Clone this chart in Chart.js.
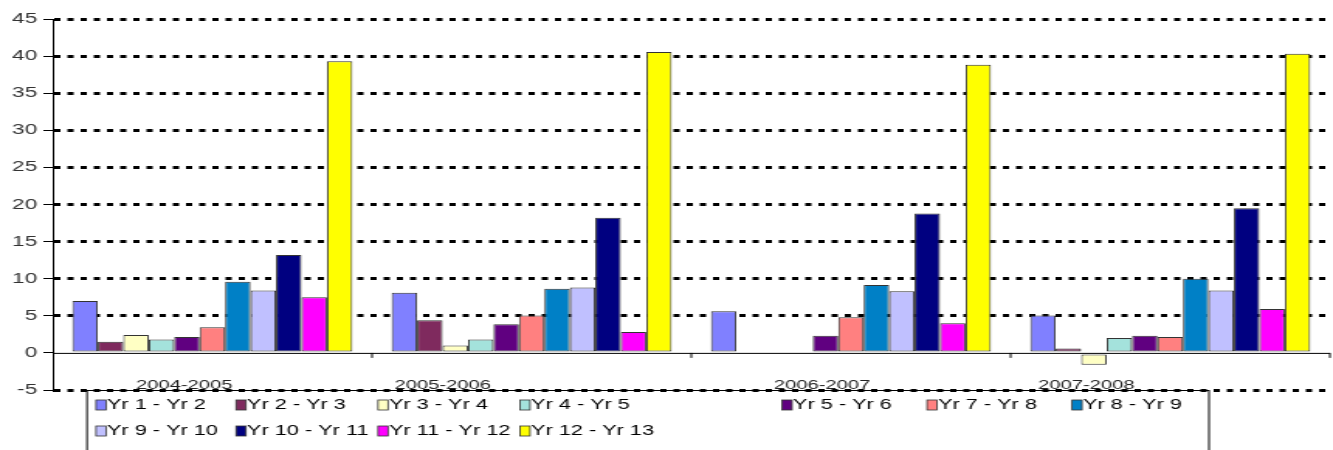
<!DOCTYPE html>
<html>
<head>
<meta charset="utf-8">
<script src="https://cdn.jsdelivr.net/npm/chart.js@4"></script>
<style>
  html, body { margin: 0; padding: 0; background: #fff; overflow: hidden; }
  /* the original picture is stretched sideways, so draw narrow and widen it */
  #wrap { width: 860px; height: 450px; transform: scaleX(1.55); transform-origin: 0 0; }
</style>
</head>
<body>
<div id="wrap"><canvas id="chart" width="860" height="450"></canvas></div>
<script>
const categories = ['2004-2005', '2005-2006', '2006-2007', '2007-2008'];
const seriesNames = ['Yr 1 - Yr 2', 'Yr 2 - Yr 3', 'Yr 3 - Yr 4', 'Yr 4 - Yr 5', 'Yr 5 - Yr 6',
    'Yr 7 - Yr 8', 'Yr 8 - Yr 9', 'Yr 9 - Yr 10', 'Yr 10 - Yr 11', 'Yr 11 - Yr 12', 'Yr 12 - Yr 13'];

const yr1_2   = [7.0, 8.1, 5.6, 5.05];
const yr2_3   = [1.5, 4.4, -0.2, 0.6];
const yr3_4   = [2.4, 1.0, 0, -1.6];
const yr4_5   = [1.8, 1.8, -0.2, 2.0];
const yr5_6   = [2.15, 3.85, 2.3, 2.3];
const yr7_8   = [3.45, 5.05, 4.8, 2.15];
const yr8_9   = [9.6, 8.65, 9.15, 10.0];
const yr9_10  = [8.4, 8.8, 8.3, 8.4];
const yr10_11 = [13.2, 18.2, 18.8, 19.5];
const yr11_12 = [7.5, 2.8, 4.0, 5.9];
const yr12_13 = [39.3, 40.55, 38.85, 40.3];

const yMin = -5, yMax = 45, yStep = 5;

const seriesValues = [yr1_2, yr2_3, yr3_4, yr4_5, yr5_6, yr7_8, yr8_9, yr9_10, yr10_11, yr11_12, yr12_13];
const seriesColors = ['#8080FF', '#7F2A5E', '#FFFFC4', '#A4E2DC', '#600080', '#FF8080',
    '#0080C6', '#C0C0FF', '#000080', '#FF00FF', '#FFFF00'];

const STRETCH = 1.55;
const FONT = 'Arial, "Liberation Sans", sans-serif';
// legend columns and rows in screen pixels
const legendCols = [96, 236, 378, 520, 782, 927, 1072];
const legendRows = [405, 431];
const labelShift = [-28, -89, -29, -84];

const extras = {
    id: 'extras',
    afterDraw(chart) {
        const ctx = chart.ctx;
        const x = chart.scales.x, y = chart.scales.y;
        const area = chart.chartArea;
        const y0 = y.getPixelForValue(0);
        ctx.save();
        // zero axis line with ticks between the groups
        ctx.strokeStyle = '#000';
        ctx.lineWidth = 1;
        ctx.beginPath();
        ctx.moveTo(area.left, y0 + 0.5);
        ctx.lineTo(area.right, y0 + 0.5);
        for (let i = 0; i < categories.length; i++) {
            const bx = x.getPixelForValue(i + 0.5);
            ctx.moveTo(bx, y0);
            ctx.lineTo(bx, y0 + 5);
        }
        ctx.stroke();

        // category labels near the bottom of the plot
        ctx.font = '13px ' + FONT;
        ctx.fillStyle = '#222';
        ctx.textAlign = 'center';
        ctx.textBaseline = 'middle';
        categories.forEach((c, i) => {
            ctx.fillText(c, x.getPixelForValue(i) + labelShift[i] / STRETCH, 385);
        });

        // legend box
        ctx.lineWidth = 1;
        ctx.strokeStyle = '#000';
        ctx.strokeRect(87 / STRETCH, 390.5, (1209 - 87) / STRETCH, 80);

        ctx.font = '14px ' + FONT;
        ctx.textAlign = 'left';
        chart.data.datasets.forEach((ds, i) => {
            const row = i < 7 ? 0 : 1;
            const col = i < 7 ? i : i - 7;
            const lx = legendCols[col] / STRETCH;
            const ly = legendRows[row];
            ctx.fillStyle = ds.backgroundColor;
            ctx.fillRect(lx, ly - 5, 10 / STRETCH, 10);
            ctx.lineWidth = 0.8;
            ctx.strokeStyle = '#333';
            ctx.strokeRect(lx, ly - 5, 10 / STRETCH, 10);
            ctx.fillStyle = '#000';
            ctx.fillText(ds.label, lx + 11 / STRETCH, ly);
        });
        ctx.restore();
    }
};

new Chart(document.getElementById('chart'), {
    type: 'bar',
    data: {
        labels: categories,
        datasets: seriesNames.map((name, i) => ({
            label: name,
            data: seriesValues[i],
            backgroundColor: seriesColors[i],
            borderColor: '#333',
            borderWidth: 1,
            borderSkipped: false,
            categoryPercentage: 0.877,
            barPercentage: 1.0
        }))
    },
    options: {
        responsive: false,
        animation: false,
        layout: { padding: { left: 0, right: 2, top: 19, bottom: 60 } },
        plugins: { legend: { display: false }, tooltip: { enabled: false } },
        scales: {
            x: { display: false },
            y: {
                min: yMin,
                max: yMax,
                afterFit: scale => { scale.width = 34; },
                ticks: {
                    stepSize: yStep,
                    color: '#333',
                    font: { size: 14.5, family: FONT },
                    padding: 4
                },
                border: { display: true, color: '#000', width: 1, dash: [4, 4.5] },
                grid: {
                    color: c => (c.tick && c.tick.value === 0) ? 'rgba(0,0,0,0)' : '#000',
                    lineWidth: 3,
                    tickLength: 6,
                    tickColor: '#000',
                    tickWidth: 1,
                    tickBorderDash: []
                }
            }
        }
    },
    plugins: [extras]
});
</script>
</body>
</html>
